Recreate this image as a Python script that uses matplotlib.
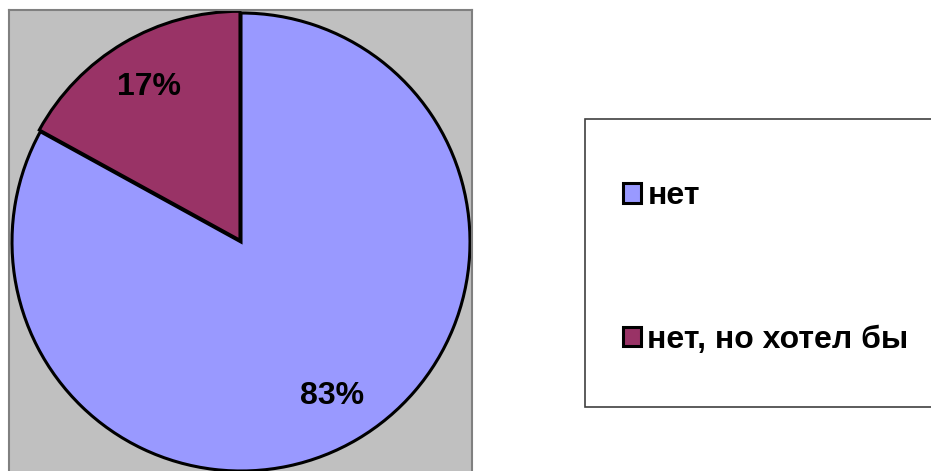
import matplotlib
matplotlib.use("Agg")
import matplotlib.pyplot as plt
from matplotlib.patches import Rectangle

plt.rcParams['font.family'] = ['Liberation Sans', 'DejaVu Sans']

# data
labels = ['нет', 'нет, но хотел бы']
values = [83, 17]
colors = ['#9999FF', '#993366']

W, H = 931, 471
fig = plt.figure(figsize=(W / 100, H / 100), dpi=100)

# plot area (gray box), coordinates in pixels, y pointing up
ax = fig.add_axes([9 / W, -2 / H, 463 / W, 463 / H])
ax.set_facecolor('#C0C0C0')
for s in ax.spines.values():
    s.set_color('#808080')
    s.set_linewidth(1.5)

wedges, texts, autotexts = ax.pie(
    values, colors=colors, startangle=90, counterclock=False,
    center=(241, 229), radius=229, explode=[0, 2],
    autopct='%1.0f%%', pctdistance=0.78,
    wedgeprops=dict(edgecolor='black', linewidth=2.2),
    textprops=dict(fontsize=23, fontweight='bold', color='black'),
    frame=True,
)
ax.set_xlim(9, 472)
ax.set_ylim(-2, 461)
ax.set_aspect('auto')
ax.set_xticks([])
ax.set_yticks([])

# legend box
fig.patches.append(Rectangle((585 / W, 1 - 407 / H), 360 / W, 288 / H,
                             transform=fig.transFigure, facecolor='white',
                             edgecolor='#404040', linewidth=1.2))
fig.legend(wedges, labels, loc='center left',
           bbox_to_anchor=(607 / W, 1 - 268 / H), frameon=False,
           prop=dict(size=23, weight='bold'),
           handlelength=0.56, handleheight=0.56, handletextpad=0.2,
           labelspacing=3.55, borderpad=0)

fig.savefig('out.png', dpi=100)
